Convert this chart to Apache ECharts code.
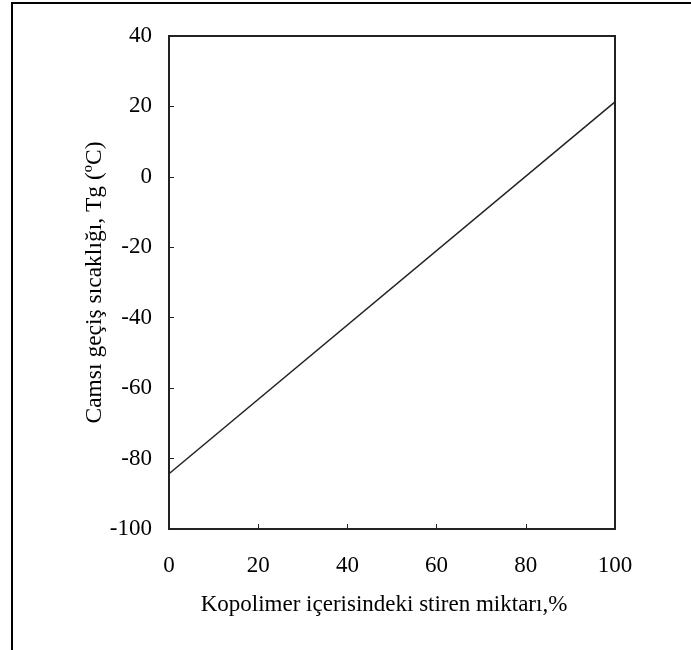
<!DOCTYPE html>
<html>
<head>
<meta charset="utf-8">
<script src="https://cdn.jsdelivr.net/npm/echarts@6/dist/echarts.min.js"></script>
<style>
  html, body { margin: 0; padding: 0; background: #fff; }
  #main { width: 691px; height: 650px; }
</style>
</head>
<body>
<div id="main"></div>
<script>
// styrene content (%) vs glass transition temperature Tg (°C)
const styrene = [0, 100];
const tgValues = [-84.3, 21.3];
const xTicks = [0, 20, 40, 60, 80, 100];
const yTicks = [-100, -80, -60, -40, -20, 0, 20, 40];

const chart = echarts.init(document.getElementById("main"));
const font = "Liberation Serif";

const option = {
  backgroundColor: "#fff",
  animation: false,
  grid: {
    left: 169,
    top: 36,
    right: 76,
    bottom: 121,
    show: true,
    borderColor: "#222",
    borderWidth: 2,
  },
  xAxis: {
    type: "value",
    min: xTicks[0],
    max: xTicks[xTicks.length - 1],
    interval: 20,
    name: "Kopolimer içerisindeki stiren miktarı,%",
    nameLocation: "middle",
    nameGap: 64,
    nameMoveOverlap: false,
    nameTextStyle: { fontFamily: font, fontSize: 23, color: "#000", padding: [0, 16, 0, 0] },
    axisLine: { onZero: false, lineStyle: { color: "#222", width: 2 } },
    axisTick: { inside: true, length: 5, lineStyle: { color: "#222" } },
    axisLabel: { fontFamily: font, fontSize: 23, color: "#000", margin: 25 },
    splitLine: { show: false },
  },
  yAxis: {
    type: "value",
    min: yTicks[0],
    max: yTicks[yTicks.length - 1],
    interval: 20,
    name: "Camsı geçiş sıcaklığı, Tg (ºC)",
    nameLocation: "middle",
    nameGap: 62,
    nameMoveOverlap: false,
    nameTextStyle: { fontFamily: font, fontSize: 23.5, color: "#000" },
    axisLine: { onZero: false, lineStyle: { color: "#222", width: 2 } },
    axisTick: { inside: true, length: 5, lineStyle: { color: "#222" } },
    axisLabel: { fontFamily: font, fontSize: 23, color: "#000", margin: 17 },
    splitLine: { show: false },
  },
  graphic: [
    { type: "line", shape: { x1: 11, y1: 3, x2: 691, y2: 3 }, style: { stroke: "#000", lineWidth: 2 } },
    { type: "line", shape: { x1: 12, y1: 2, x2: 12, y2: 650 }, style: { stroke: "#000", lineWidth: 2 } },
  ],
  series: [
    {
      type: "line",
      data: styrene.map((x, i) => [x, tgValues[i]]),
      symbol: "none",
      lineStyle: { color: "#222", width: 1.5 },
    },
  ],
};

chart.setOption(option);
</script>
</body>
</html>
